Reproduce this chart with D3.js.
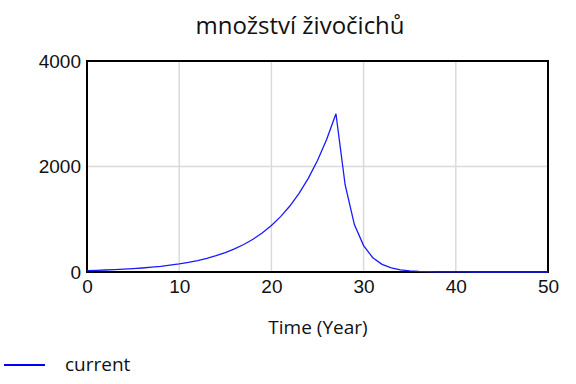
<!doctype html>
<meta charset=utf8>
<title>množství živočichů</title>
<style>
  body { margin: 0; background: white; }
  svg { display: block; font-family: "Open Sans", "Noto Sans", sans-serif; }
  .grid line { stroke: #dadada; stroke-width: 1.5; }
  .axis path, .axis line { display: none; }
  .axis text { font-size: 19px; fill: #111; }
</style>
<svg width=576 height=384></svg>
<script src=https://cdnjs.cloudflare.com/ajax/libs/d3/7.8.5/d3.min.js></script>
<script>
  // data (one point per year)
  var years = d3.range(0, 51);
  var current = [
    27, 32, 38, 45, 54, 64, 76, 91, 108, 129,
    153, 183, 217, 259, 309, 368, 438, 522, 621, 740,
    882, 1050, 1251, 1490, 1775, 2114, 2518, 3000, 1650, 900,
    500, 270, 145, 78, 42, 23, 12, 7, 4, 2,
    1, 0.5, 0.3, 0.2, 0.1, 0, 0, 0, 0, 0, 0
  ];
  var xTicks = [0, 10, 20, 30, 40, 50];
  var yTicks = [0, 2000, 4000];
  var title = 'množství živočichů';
  var xLabel = 'Time (Year)';
  var seriesName = 'current';

  var svg = d3.select('svg');
  var margin = { top: 61, right: 28, bottom: 112, left: 87 };
  var width = 576 - margin.left - margin.right;
  var height = 384 - margin.top - margin.bottom;

  var x = d3.scaleLinear().domain([0, 50]).range([0, width]);
  var y = d3.scaleLinear().domain([0, 4000]).range([height, 0]);

  var g = svg.append('g').attr('transform', 'translate(' + margin.left + ',' + margin.top + ')');

  // grid
  var grid = g.append('g').attr('class', 'grid');
  grid.selectAll('.vx').data(xTicks).enter().append('line')
    .attr('x1', x).attr('x2', x).attr('y1', 0).attr('y2', height);
  grid.selectAll('.hy').data(yTicks).enter().append('line')
    .attr('y1', y).attr('y2', y).attr('x1', 0).attr('x2', width);

  // frame
  g.append('rect')
    .attr('width', width).attr('height', height)
    .attr('fill', 'none').attr('stroke', 'black').attr('stroke-width', 2);

  // axes
  g.append('g')
    .attr('class', 'axis x')
    .attr('transform', 'translate(0,' + height + ')')
    .call(d3.axisBottom(x).tickValues(xTicks).tickSize(0).tickPadding(8).tickFormat(d3.format('d')));

  g.append('g')
    .attr('class', 'axis y')
    .call(d3.axisLeft(y).tickValues(yTicks).tickSize(0).tickPadding(6).tickFormat(d3.format('d')));

  // line
  var line = d3.line()
    .x(function(d, i) { return x(years[i]); })
    .y(function(d) { return y(d); });

  g.append('path')
    .datum(current)
    .attr('fill', 'none')
    .attr('stroke', '#1a1aff')
    .attr('stroke-width', 1.3)
    .attr('d', line);

  // title
  svg.append('text')
    .attr('x', 300).attr('y', 34)
    .attr('text-anchor', 'middle')
    .style('font-size', '24px')
    .attr('fill', '#111')
    .text(title);

  // x label
  svg.append('text')
    .attr('x', 318).attr('y', 334)
    .attr('text-anchor', 'middle')
    .style('font-size', '19px')
    .attr('fill', '#111')
    .text(xLabel);

  // legend
  svg.append('line')
    .attr('x1', 4).attr('x2', 45).attr('y1', 365).attr('y2', 365)
    .attr('stroke', '#0000ff').attr('stroke-width', 2);
  svg.append('text')
    .attr('x', 65).attr('y', 371)
    .style('font-size', '19px')
    .attr('fill', '#111')
    .text(seriesName);
</script>
